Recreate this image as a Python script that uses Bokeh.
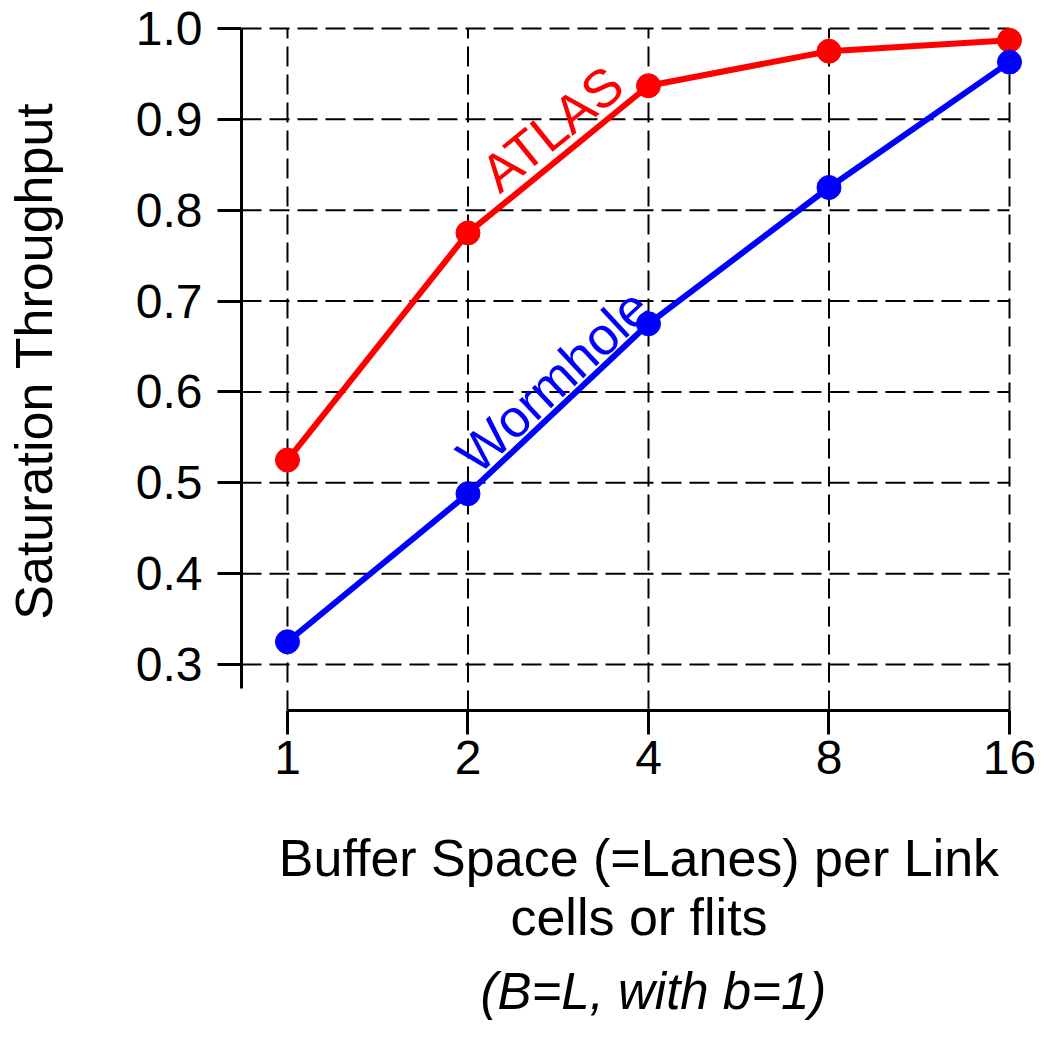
import math
from bokeh.plotting import figure
from bokeh.models import Range1d, FixedTicker, Label, Title
from bokeh.embed import file_html
from bokeh.resources import INLINE

# ---- data ----
buffer_space = [1, 2, 4, 8, 16]
x_tick_labels = ["1", "2", "4", "8", "16"]
atlas = [0.525, 0.775, 0.937, 0.975, 0.987]
wormhole = [0.325, 0.488, 0.675, 0.825, 0.963]
y_ticks = [0.3, 0.4, 0.5, 0.6, 0.7, 0.8, 0.9, 1.0]
y_tick_labels = ["0.3", "0.4", "0.5", "0.6", "0.7", "0.8", "0.9", "1.0"]

FONT = "Liberation Sans"

x_lo, x_hi = 2 ** -0.2548, 2 ** 4.1496
y_lo, y_hi = 0.24937, 1.01871

p = figure(frame_width=795, frame_height=699, x_axis_type="log",
           x_range=Range1d(x_lo, x_hi), y_range=Range1d(y_lo, y_hi),
           output_backend="svg", toolbar_location=None,
           min_border_left=241, min_border_right=0, min_border_top=11,
           min_border_bottom=319)
p.outline_line_color = None
p.grid.visible = False
p.background_fill_color = "white"
p.border_fill_color = "white"

for ax in (p.xaxis[0], p.yaxis[0]):
    ax.axis_line_width = 3
    ax.axis_line_color = "black"
    ax.major_tick_line_width = 3
    ax.major_tick_line_color = "black"
    ax.major_tick_out = 24
    ax.major_tick_in = 0
    ax.minor_tick_line_color = None
    ax.major_label_text_font = FONT
    ax.major_label_text_font_size = "48px"
    ax.major_label_text_color = "black"
    ax.axis_label_text_font = FONT
    ax.axis_label_text_font_size = "52px"
    ax.axis_label_text_font_style = "normal"
    ax.axis_label_text_color = "black"

p.xaxis.ticker = FixedTicker(ticks=buffer_space)
p.xaxis.major_label_overrides = dict(zip(buffer_space, x_tick_labels))
p.xaxis.bounds = (buffer_space[0], buffer_space[-1])
p.xaxis.major_label_standoff = 6
p.xaxis.axis_label = "Buffer Space (=Lanes) per Link\ncells or flits"
p.xaxis.axis_label_standoff = 52
p.xaxis.axis_label_text_line_height = 1.033

p.yaxis.ticker = FixedTicker(ticks=y_ticks)
p.yaxis.major_label_overrides = dict(zip(y_ticks, y_tick_labels))
p.yaxis.bounds = (0.2736, 1.0)
p.yaxis.major_label_standoff = 15
p.yaxis.axis_label = "Saturation Throughput"
p.yaxis.axis_label_standoff = 70

p.add_layout(Title(text="(B=L, with b=1)", align="left", offset=239,
                   vertical_align="bottom", standoff=22,
                   text_font=FONT, text_font_size="51px", text_font_style="italic",
                   text_color="black"), "below")

# dashed grid lines (limited to the data extent)
p.segment(x0=buffer_space, y0=[y_lo] * len(buffer_space), x1=buffer_space,
          y1=[y_ticks[-1]] * len(buffer_space),
          line_color="black", line_width=2, line_dash="20 8")
p.segment(x0=[x_lo] * len(y_ticks), y0=y_ticks, x1=[buffer_space[-1]] * len(y_ticks),
          y1=y_ticks, line_color="black", line_width=2, line_dash="20 8")

# series
p.line(buffer_space, atlas, line_color="#ff0000", line_width=6)
p.scatter(buffer_space, atlas, size=24, fill_color="#ff0000", line_color="#ff0000")
p.line(buffer_space, wormhole, line_color="#0000ff", line_width=6)
p.scatter(buffer_space, wormhole, size=24, fill_color="#0000ff", line_color="#0000ff")

# series labels
p.add_layout(Label(x=2.16, y=0.833, text="ATLAS", angle=math.radians(39),
                   text_font=FONT, text_font_size="53px", text_color="#ff0000",
                   text_align="left", text_baseline="alphabetic"))
p.add_layout(Label(x=1.98, y=0.522, text="Wormhole", angle=math.radians(43),
                   text_font=FONT, text_font_size="53px", text_color="#0000ff",
                   text_align="left", text_baseline="alphabetic"))

open("out.html", "w").write(file_html(p, INLINE))
